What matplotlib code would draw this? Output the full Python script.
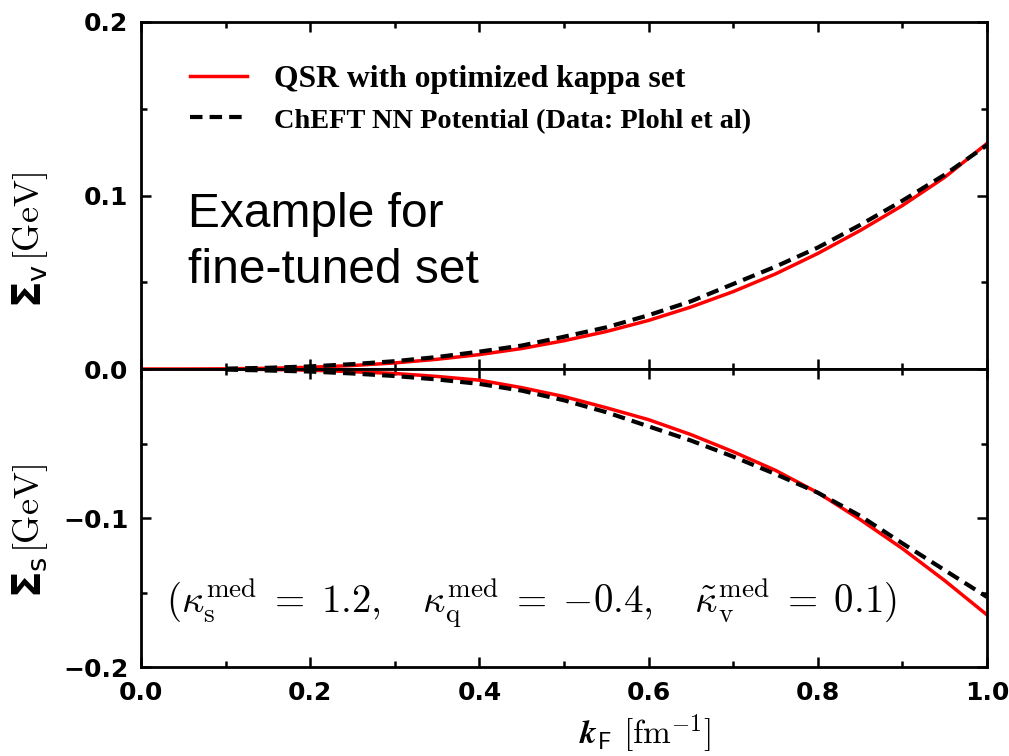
import numpy as np
import matplotlib.pyplot as plt
from matplotlib.ticker import MultipleLocator

plt.rcParams['mathtext.fontset'] = 'cm'

# === Data ===
k_qsr = [0.0, 0.05, 0.1, 0.15, 0.2, 0.25, 0.3, 0.35, 0.4, 0.45, 0.5,
         0.55, 0.6, 0.65, 0.7, 0.75, 0.8, 0.85, 0.9, 0.95, 1.0]
sv_qsr = [0.0, 0.0, 0.0001, 0.0004, 0.001, 0.002, 0.0035, 0.0056, 0.0083, 0.0118, 0.0163,
          0.0216, 0.028, 0.0357, 0.0446, 0.0548, 0.0666, 0.0798, 0.0942, 0.1105, 0.130]
ss_qsr = [0.0, 0.0, -0.0001, -0.0003, -0.0008, -0.0018, -0.003, -0.005, -0.0075, -0.0125, -0.0185,
          -0.026, -0.034, -0.044, -0.0555, -0.068, -0.083, -0.101, -0.1205, -0.142, -0.165]

k_nn = [0.1, 0.15, 0.2, 0.25, 0.3, 0.35, 0.4, 0.45, 0.5,
        0.55, 0.6, 0.65, 0.7, 0.75, 0.8, 0.85, 0.9, 0.95, 1.0]
sv_nn = [0.0002, 0.0007, 0.0015, 0.0028, 0.0045, 0.0069, 0.010, 0.0135, 0.0186,
         0.024, 0.031, 0.039, 0.049, 0.059, 0.070, 0.083, 0.097, 0.112, 0.129]
ss_nn = [-0.0004, -0.001, -0.0017, -0.003, -0.0047, -0.007, -0.010, -0.0145, -0.021,
         -0.029, -0.0385, -0.048, -0.0588, -0.0705, -0.083, -0.0985, -0.117, -0.135, -0.153]

label_qsr = "QSR with optimized kappa set"
label_nn = "ChEFT NN Potential (Data: Plohl et al)"

tick_font = dict(family='DejaVu Sans', weight='bold', size=18)

fig = plt.figure(figsize=(10.09, 7.56), dpi=100)
ax_top = fig.add_axes([0.1397, 0.5119, 0.8385, 0.4590])
ax_bot = fig.add_axes([0.1397, 0.1177, 0.8385, 0.3942], sharex=ax_top)

for ax in (ax_top, ax_bot):
    for s in ax.spines.values():
        s.set_linewidth(2.0)
    ax.tick_params(which='both', direction='in', top=True, right=True, width=1.8)
    ax.tick_params(which='major', length=7)
    ax.tick_params(which='minor', length=4)
    ax.tick_params(axis='y', pad=9)
    ax.xaxis.set_major_locator(MultipleLocator(0.2))
    ax.xaxis.set_minor_locator(MultipleLocator(0.1))
    ax.yaxis.set_major_locator(MultipleLocator(0.1))
    ax.yaxis.set_minor_locator(MultipleLocator(0.05))

# --- top panel: vector self energy ---
ax_top.plot(k_qsr, sv_qsr, color='red', lw=2.5, label=label_qsr)
ax_top.plot(k_nn, sv_nn, color='black', lw=3, dashes=(3, 1.7), label=label_nn)
ax_top.set_xlim(0, 1)
ax_top.set_ylim(0, 0.2)
ax_top.set_yticks([0.0, 0.1, 0.2])
ax_top.set_yticklabels(['0.0', '0.1', '0.2'], fontdict=tick_font)
ax_top.tick_params(labelbottom=False)

leg = ax_top.legend(loc='upper left', bbox_to_anchor=(0.024, 0.958), frameon=False,
                    handlelength=1.8, handletextpad=0.85, labelspacing=0.36,
                    prop=dict(family='Liberation Serif', weight='bold', size=22.8))
leg.get_texts()[1].set_fontsize(20.4)

ax_top.text(0.056, 0.409, "Example for", transform=ax_top.transAxes,
            family='Liberation Sans', fontsize=34.5, va='baseline', ha='left')
ax_top.text(0.056, 0.248, "fine-tuned set", transform=ax_top.transAxes,
            family='Liberation Sans', fontsize=34.5, va='baseline', ha='left')

# --- bottom panel: scalar self energy ---
ax_bot.plot(k_qsr, ss_qsr, color='red', lw=2.5)
ax_bot.plot(k_nn, ss_nn, color='black', lw=3, dashes=(3, 1.7))
ax_bot.set_ylim(-0.2, 0)
ax_bot.set_yticks([-0.2, -0.1, 0.0])
ax_bot.set_yticklabels(['\u22120.2', '\u22120.1', ''], fontdict=tick_font)
ax_bot.set_xticks([0.0, 0.2, 0.4, 0.6, 0.8, 1.0])
ax_bot.set_xticklabels(['0.0', '0.2', '0.4', '0.6', '0.8', '1.0'], fontdict=tick_font)
ax_bot.tick_params(axis='x', pad=10)
ax_bot.set_xlabel(r'$\mathbfit{k}_{\mathsf{F}}\ [\mathrm{fm}^{-1}]$', fontsize=24)
ax_bot.xaxis.set_label_coords(0.596, -0.152)
ax_bot.text(0.03, -0.163,
            r'$(\kappa_{\rm s}^{\rm med}\;=\;1.2,\quad \kappa_{\rm q}^{\rm med}\;=\;{-0.4},'
            r'\quad \tilde{\kappa}_{\rm v}^{\rm med}\;=\;0.1)$',
            fontsize=28, ha='left', va='baseline')

# y labels: bold sans Sigma plus serif unit, stacked vertically
for sub, y_sig in (('v', 264), ('s', 556)):
    fig.text(30 / 1009, 1 - y_sig / 756, r'$\mathbf{\Sigma}_{\mathsf{%s}}$' % sub,
             rotation=90, ha='center', va='top', fontsize=28, math_fontfamily='dejavusans')
    fig.text(30 / 1009, 1 - (y_sig - 3) / 756, r'$[\mathrm{GeV}]$',
             rotation=90, ha='center', va='bottom', fontsize=26)

fig.savefig("out.png", dpi=100)
